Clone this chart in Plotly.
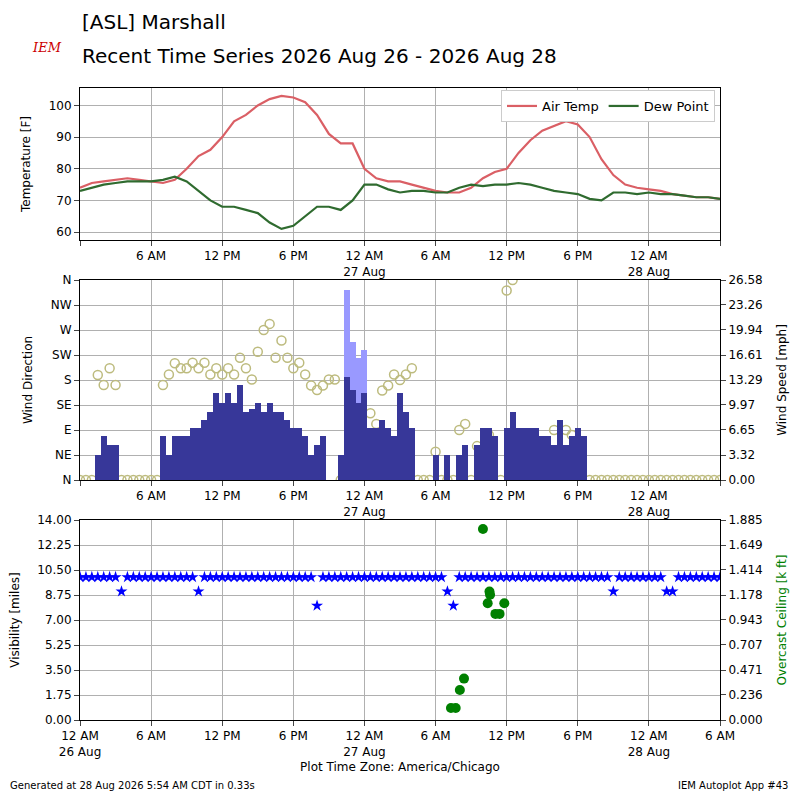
import pandas as pd
import plotly.graph_objects as go

start = pd.Timestamp("2026-08-26 00:00")

# hourly temperatures (F), hour 0..54
air_temp = [74, 75.5, 76, 76.5, 77, 76.5, 76, 75.5, 76.5, 80, 84, 86, 90, 95, 97, 100, 102, 103,
            102.5, 101, 97, 91, 88, 88, 80, 77, 76, 76, 75, 74, 73, 72.5, 72.5, 74, 77, 79,
            80, 85, 89, 92, 93.5, 95, 94, 90, 83, 78, 75, 74, 73.5, 73, 72, 71.5, 71, 71, 70.5]
dew_point = [73, 74, 75, 75.5, 76, 76, 76, 76.5, 77.5, 76, 73, 70, 68, 68, 67, 66, 63, 61,
             62, 65, 68, 68, 67, 70, 75, 75, 73.5, 72.5, 73, 73, 72.5, 72.5, 74, 75, 74.5, 75,
             75, 75.5, 75, 74, 73, 72.5, 72, 70.5, 70, 72.5, 72.5, 72, 72.5, 72, 72, 71.5, 71, 71, 70.5]

# 30-minute wind data, index 0..108
wind_speed = [0, 0, 0, 3.3, 5.8, 4.6, 4.6, 0, 0, 0, 0, 0, 0, 0,
              5.8, 3.3, 5.8, 5.8, 5.8, 6.9, 6.9, 8, 9, 11.5, 10.2, 11.5, 10.2, 12.6, 9, 9.5,
              10.2, 9, 10.2, 9, 9, 8, 6.9, 6.9, 5.8, 3.3, 4.6, 5.8, 0, 0, 3.3, 13.7, 12, 10.2,
              11.5, 6.9, 6.9, 8, 6.9, 5.8, 11.5, 9, 6.9, 0, 0, 0, 3.3, 0, 3.3, 0, 3.3, 4.6,
              0, 4.6, 6.9, 6.9, 5.8, 0, 6.9, 9, 6.9, 6.9, 6.9, 6.9, 5.8, 5.8, 4.6, 8, 4.6, 5.8,
              6.9, 5.8, 0, 0, 0, 0, 0, 0, 0, 0, 0, 0, 0, 0, 0, 0, 0, 0, 0, 0, 0, 0, 0, 0, 0]
wind_gust = {45: 25.3, 46: 18.4, 47: 16.2, 48: 17.3}
wind_dir = [0, 0, 0, 189, 171, 201, 171, 0, 0, 0, 0, 0, 0, 0,
            171, 190, 210, 201, 201, 211, 201, 211, 190, 201, 190, 201, 190, 220, 201, 181,
            231, 270, 281, 220, 251, 220, 201, 211, 190, 170, 162, 170, 181, 181, 0, 31, 70, 51,
            81, 120, 101, 161, 170, 190, 180, 190, 201, 0, 0, 0, 51, 0, 0, 0, 90, 101,
            0, 61, 41, 81, None, 0, 341, 360, None, None, None, None, None, None, 90, None, 90, 81,
            None, None, 0, 0, 0, 0, 0, 0, 0, 0, 0, 0, 0, 0, 0, 0, 0, 0, 0, 0, 0, 0, 0, 0, 0]

# 30-minute visibility (miles)
visibility = [10, 10, 10, 10, 10, 10, 10, 9, 10, 10, 10, 10, 10, 10, 10, 10, 10, 10, 10, 10,
              9, 10, 10, 10, 10, 10, 10, 10, 10, 10, 10, 10, 10, 10, 10, 10, 10, 10, 10, 10,
              8, 10, 10, 10, 10, 10, 10, 10, 10, 10, 10, 10, 10, 10, 10, 10, 10, 10, 10, 10,
              10, 10, 9, 8, 10, 10, 10, 10, 10, 10, 10, 10, 10, 10, 10, 10, 10, 10, 10, 10,
              10, 10, 10, 10, 10, 10, 10, 10, 10, 10, 9, 10, 10, 10, 10, 10, 10, 10, 10, 9,
              9, 10, 10, 10, 10, 10, 10, 10, 10]
ceiling_hours = [31.3, 31.7, 32.05, 32.4, 34.0, 34.4, 34.6, 35.05, 35.4, 35.8, 34.55]
ceiling_kft = [0.113, 0.113, 0.283, 0.39, 1.80, 1.10, 1.18, 1.00, 1.00, 1.10, 1.21]

tick_hours = [0, 6, 12, 18, 24, 30, 36, 42, 48, 54]
tick_text = ["12 AM<br>26 Aug", "6 AM", "12 PM", "6 PM", "12 AM<br>27 Aug", "6 AM", "12 PM",
             "6 PM", "12 AM<br>28 Aug", "6 AM"]

hourly_t = [start + pd.Timedelta(hours=h) for h in range(len(air_temp))]
half_t = [start + pd.Timedelta(minutes=30 * i) for i in range(len(wind_speed))]
ceil_t = [start + pd.Timedelta(hours=h) for h in ceiling_hours]
tick_vals = [start + pd.Timedelta(hours=h) for h in tick_hours]
x_range = [start, start + pd.Timedelta(hours=54)]

# the page adds an 8px margin, so the figure is 784 wide and reference pixels shift by 8
W = 784


def px(v):
    return (v - 8) / W


def py(v):
    return 1 - (v - 8) / W


fig = go.Figure()
fig.add_trace(go.Scatter(x=hourly_t, y=air_temp, name="Air Temp", mode="lines",
                         line=dict(color="#da5f65", width=2.2), xaxis="x", yaxis="y"))
fig.add_trace(go.Scatter(x=hourly_t, y=dew_point, name="Dew Point", mode="lines",
                         line=dict(color="#2f6b2f", width=2.2), xaxis="x", yaxis="y"))

gust_y = [wind_gust.get(i, 0) for i in range(len(wind_speed))]
fig.add_trace(go.Bar(x=half_t, y=gust_y, marker=dict(color="#9999ff", line_width=0),
                     width=1800000, showlegend=False, xaxis="x2", yaxis="y4"))
fig.add_trace(go.Bar(x=half_t, y=wind_speed, marker=dict(color="#373799", line_width=0),
                     width=1800000, showlegend=False, xaxis="x2", yaxis="y4"))
fig.add_trace(go.Scatter(x=half_t, y=wind_dir, mode="markers", showlegend=False,
                         marker=dict(symbol="circle-open", size=9, color="#bdbb7e",
                                     line=dict(width=1.5)),
                         xaxis="x2", yaxis="y2"))

fig.add_trace(go.Scatter(x=half_t, y=visibility, mode="markers", showlegend=False,
                         marker=dict(symbol="star", size=9, color="#0000ff"),
                         xaxis="x3", yaxis="y3"))
fig.add_trace(go.Scatter(x=ceil_t, y=ceiling_kft, mode="markers", showlegend=False,
                         marker=dict(size=10, color="#008000"),
                         xaxis="x3", yaxis="y5"))

font = dict(family="DejaVu Sans", size=12, color="black")
xcommon = dict(range=x_range, tickvals=tick_vals, showgrid=True, gridcolor="#b0b0b0",
               showline=True, linecolor="black", mirror=True, ticks="outside",
               domain=[px(80), px(720)], tickfont=font, automargin=False)
ycommon = dict(showgrid=True, gridcolor="#b0b0b0", showline=True, linecolor="black",
               mirror=True, ticks="outside", tickfont=font, zeroline=False, automargin=False)
top_text = [t if 0 < h < 54 else "" for h, t in zip(tick_hours, tick_text)]

fig.update_layout(
    width=W, height=W, margin=dict(l=0, r=0, t=0, b=0),
    plot_bgcolor="white", paper_bgcolor="white", font=font,
    barmode="overlay", bargap=0,
    xaxis=dict(xcommon, anchor="y", ticktext=top_text),
    xaxis2=dict(xcommon, anchor="y2", ticktext=top_text),
    xaxis3=dict(xcommon, anchor="y3", ticktext=tick_text,
                title=dict(text="Plot Time Zone: America/Chicago", font=font, standoff=4)),
    yaxis=dict(ycommon, domain=[py(240), py(88)], range=[57.5, 105.5], tickvals=[60, 70, 80, 90, 100],
               title=dict(text="Temperature [F]", font=font)),
    yaxis2=dict(ycommon, domain=[py(480), py(280)], range=[0, 360],
                tickvals=[0, 45, 90, 135, 180, 225, 270, 315, 360],
                ticktext=["N", "NE", "E", "SE", "S", "SW", "W", "NW", "N"],
                title=dict(text="Wind Direction", font=font)),
    yaxis4=dict(ycommon, overlaying="y2", side="right", anchor="x2", range=[0, 26.58],
                tickvals=[0, 3.32, 6.65, 9.97, 13.29, 16.61, 19.94, 23.26, 26.58],
                ticktext=["0.00", "3.32", "6.65", "9.97", "13.29", "16.61", "19.94", "23.26", "26.58"],
                showgrid=False, title=dict(text="Wind Speed [mph]", font=font)),
    yaxis3=dict(ycommon, domain=[py(720), py(520)], range=[0, 14],
                tickvals=[0, 1.75, 3.5, 5.25, 7, 8.75, 10.5, 12.25, 14],
                ticktext=["0.00", "1.75", "3.50", "5.25", "7.00", "8.75", "10.50", "12.25", "14.00"],
                title=dict(text="Visibility [miles]", font=font)),
    yaxis5=dict(ycommon, overlaying="y3", side="right", anchor="x3", range=[0, 1.885],
                tickvals=[0, 0.236, 0.471, 0.707, 0.943, 1.178, 1.414, 1.649, 1.885],
                ticktext=["0.000", "0.236", "0.471", "0.707", "0.943", "1.178", "1.414", "1.649", "1.885"],
                showgrid=False, title=dict(text="Overcast Ceiling [k ft]", font=dict(font, color="green"))),
    legend=dict(orientation="h", x=px(715), xanchor="right", y=py(90), yanchor="top",
                bordercolor="#cccccc", borderwidth=1, bgcolor="white", font=dict(font, size=13)),
)

fig.add_annotation(text="[ASL] Marshall", x=px(80), y=py(22), xref="paper", yref="paper",
                   xanchor="left", yanchor="middle", showarrow=False,
                   font=dict(family="DejaVu Sans", size=20, color="black"))
fig.add_annotation(text="Recent Time Series 2026 Aug 26 - 2026 Aug 28", x=px(80), y=py(56),
                   xref="paper", yref="paper", xanchor="left", yanchor="middle", showarrow=False,
                   font=dict(family="DejaVu Sans", size=20, color="black"))
fig.add_annotation(text="<i>IEM</i>", x=px(30), y=py(38), xref="paper", yref="paper",
                   showarrow=False, font=dict(family="DejaVu Serif", size=13, color="#cc0000"))
fig.add_annotation(text="Generated at 28 Aug 2026 5:54 AM CDT in 0.33s", x=px(8), y=py(785),
                   xref="paper", yref="paper", xanchor="left", yanchor="middle", showarrow=False,
                   font=dict(family="DejaVu Sans", size=10, color="black"))
fig.add_annotation(text="IEM Autoplot App #43", x=px(790), y=py(785),
                   xref="paper", yref="paper", xanchor="right", yanchor="middle", showarrow=False,
                   font=dict(family="DejaVu Sans", size=10, color="black"))

fig.write_html("out.html")
